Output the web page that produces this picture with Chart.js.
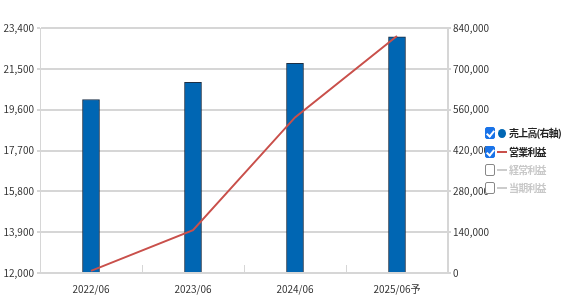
<!DOCTYPE html>
<html>
<head>
<meta charset="utf-8">
<script src="https://cdn.jsdelivr.net/npm/chart.js@4.4.0/dist/chart.umd.min.js"></script>
<style>
  body { margin: 0; background: #fff; font-family: "Noto Sans CJK JP", sans-serif; }
  #wrap { position: relative; width: 562px; height: 304px; overflow: hidden; }
  #c { position: absolute; left: 0; top: 0; }
  .lg { position: absolute; left: 485px; font-size: 10px; line-height: 14px; display: flex; align-items: center; white-space: nowrap; letter-spacing: -0.8px; }
  .box { width: 8px; height: 10px; border: 1px solid #888; border-radius: 2px; background: #fff; box-sizing: content-box; position: relative; }
  .box.on { background: #1a73e8; border-color: #1a73e8; }
  .box.on::after { content: ""; position: absolute; left: 2px; top: 1px; width: 3px; height: 6px; border: solid #fff; border-width: 0 2px 2px 0; transform: rotate(40deg); }
  .mk { width: 10px; margin-left: 2px; margin-right: 2px; display: flex; align-items: center; justify-content: center; }
  .dot { width: 8px; height: 9px; border-radius: 50%; background: #0066b3; }
  .ln { width: 10px; height: 2px; }
</style>
</head>
<body>
<div id="wrap">
  <canvas id="c" width="490" height="304"></canvas>
  <div class="lg" style="top:126px"><span class="box on"></span><span class="mk"><span class="dot"></span></span><span style="color:#222;font-weight:bold">売上高(右軸)</span></div>
  <div class="lg" style="top:145px"><span class="box on"></span><span class="mk"><span class="ln" style="background:#c9504b"></span></span><span style="color:#222;font-weight:bold">営業利益</span></div>
  <div class="lg" style="top:163px"><span class="box"></span><span class="mk"><span class="ln" style="background:#ccc"></span></span><span style="color:#c8c8c8;font-weight:bold">経常利益</span></div>
  <div class="lg" style="top:181px"><span class="box"></span><span class="mk"><span class="ln" style="background:#ccc"></span></span><span style="color:#c8c8c8;font-weight:bold">当期利益</span></div>
</div>
<script>
var periods = ['2022/06', '2023/06', '2024/06', '2025/06予'];
var sales = [595000, 654000, 719000, 810000];
var operatingProfit = [12100, 13990, 19240, 23030];

var leftTicks = { min: 12000, max: 23400, step: 1900 };
var rightTicks = { min: 0, max: 840000, step: 140000 };

// short marks between categories along the bottom axis
var boundaryTicks = {
  id: 'boundaryTicks',
  afterDraw: function(chart) {
    var x = chart.scales.x, area = chart.chartArea, ctx = chart.ctx;
    ctx.save();
    ctx.strokeStyle = '#d6d6d6';
    ctx.lineWidth = 1;
    for (var i = 1; i < periods.length; i++) {
      var px = Math.round((x.getPixelForValue(i - 1) + x.getPixelForValue(i)) / 2) + 0.5;
      ctx.beginPath();
      ctx.moveTo(px, area.bottom);
      ctx.lineTo(px, area.bottom - 8);
      ctx.stroke();
    }
    ctx.restore();
  }
};

var fmt = function(v) { return v.toLocaleString('en-US'); };

new Chart(document.getElementById('c'), {
  data: {
    labels: periods,
    datasets: [
      {
        type: 'line',
        label: '営業利益',
        data: operatingProfit,
        yAxisID: 'yL',
        borderColor: '#c9504b',
        borderWidth: 2,
        pointRadius: 0,
        tension: 0,
        order: 0
      },
      {
        type: 'bar',
        label: '売上高(右軸)',
        data: sales,
        yAxisID: 'yR',
        backgroundColor: '#0066b3',
        borderColor: '#1c2f45',
        borderWidth: 1,
        borderSkipped: 'bottom',
        barThickness: 17,
        order: 1
      }
    ]
  },
  options: {
    responsive: false,
    animation: false,
    layout: { padding: { top: 28, bottom: 0, left: 0, right: 0 } },
    plugins: { legend: { display: false }, tooltip: { enabled: false } },
    scales: {
      x: {
        grid: { display: false },
        border: { color: '#d6d6d6', width: 2 },
        ticks: { color: '#333', font: { size: 10, family: 'Noto Sans CJK JP' }, padding: 2 },
        afterFit: function(s) { s.height = 31; }
      },
      yL: {
        position: 'left',
        min: leftTicks.min, max: leftTicks.max,
        ticks: { stepSize: leftTicks.step, color: '#333', font: { size: 10, family: 'Noto Sans CJK JP' }, padding: 3, callback: fmt },
        grid: { color: '#d6d6d6', lineWidth: 2, tickLength: 3 },
        border: { color: '#d6d6d6', width: 1 },
        afterFit: function(s) { s.width = 40; }
      },
      yR: {
        position: 'right',
        min: rightTicks.min, max: rightTicks.max,
        ticks: { stepSize: rightTicks.step, color: '#333', font: { size: 10, family: 'Noto Sans CJK JP' }, padding: 2, callback: fmt },
        grid: { drawOnChartArea: false, color: '#d6d6d6', lineWidth: 2, tickLength: 3 },
        border: { color: '#d6d6d6', width: 2 },
        afterFit: function(s) { s.width = 42; }
      }
    }
  },
  plugins: [boundaryTicks]
});
</script>
</body>
</html>
